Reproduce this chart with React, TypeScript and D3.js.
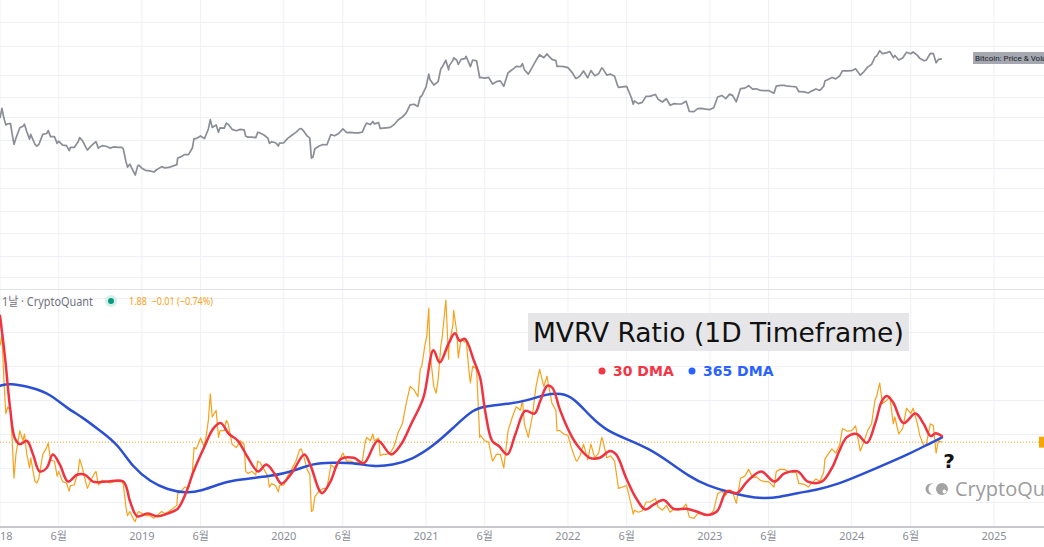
import React from "react";
import * as d3 from "d3";

// ---------- axis / grid data ----------
const xTickDates = [
  "2018-01-01", "2018-06-01", "2019-01-01", "2019-06-01", "2020-01-01", "2020-06-01",
  "2021-01-01", "2021-06-01", "2022-01-01", "2022-06-01", "2023-01-01", "2023-06-01",
  "2024-01-01", "2024-06-01", "2025-01-01",
];
const xTickLabels = [
  "2018", "6월", "2019", "6월", "2020", "6월", "2021", "6월", "2022", "6월", "2023", "6월",
  "2024", "6월", "2025",
];
const mvrvGridTicks = [1, 1.5, 2, 2.5, 3, 3.5, 4];
const priceGridTicks = [150000, 82000, 39500, 23000, 13800, 7700, 3800, 2300, 1300, 740, 415, 245];

const lastValue = 1.88;
const headerName = "1날 · CryptoQuant";
const headerValue = "1.88  −0.01 (−0.74%)";
const titleText = "MVRV Ratio (1D Timeframe)";
const legendLabels = ["30 DMA", "365 DMA"];
const priceLabel = "Bitcoin: Price & Volume";

// ---------- series ----------
type P = [string, number];

const priceData: P[] = [
  ["2018-01-01", 13400], ["2018-01-06", 17100], ["2018-01-11", 13400], ["2018-01-16", 11300], ["2018-01-21", 11600], ["2018-01-28", 11700],
  ["2018-02-01", 9100], ["2018-02-06", 6900], ["2018-02-11", 8100], ["2018-02-21", 10500], ["2018-03-01", 10900], ["2018-03-05", 11500],
  ["2018-03-11", 9500], ["2018-03-18", 7900], ["2018-03-21", 8900], ["2018-04-01", 6900], ["2018-04-06", 6600], ["2018-04-11", 6900],
  ["2018-04-21", 8900], ["2018-05-01", 9100], ["2018-05-05", 9800], ["2018-05-11", 8400], ["2018-05-21", 8400], ["2018-05-28", 7100],
  ["2018-06-01", 7500], ["2018-06-11", 6800], ["2018-06-21", 6700], ["2018-06-28", 5900], ["2018-07-01", 6400], ["2018-07-11", 6400],
  ["2018-07-21", 7400], ["2018-07-25", 8200], ["2018-08-01", 7600], ["2018-08-11", 6300], ["2018-08-14", 6000], ["2018-08-21", 6500],
  ["2018-09-01", 7200], ["2018-09-05", 7400], ["2018-09-11", 6300], ["2018-09-21", 6700], ["2018-10-01", 6600], ["2018-10-11", 6300],
  ["2018-10-21", 6500], ["2018-11-01", 6400], ["2018-11-11", 6400], ["2018-11-14", 6200], ["2018-11-21", 4500], ["2018-11-25", 3900],
  ["2018-12-01", 4200], ["2018-12-11", 3450], ["2018-12-15", 3200], ["2018-12-21", 4000], ["2018-12-24", 4100],
  ["2019-01-01", 3800], ["2019-01-10", 3600], ["2019-01-21", 3550], ["2019-02-01", 3450], ["2019-02-08", 3650], ["2019-02-21", 3950],
  ["2019-03-01", 3820], ["2019-03-11", 3870], ["2019-03-21", 4000], ["2019-04-01", 4150], ["2019-04-03", 4900], ["2019-04-11", 5050],
  ["2019-04-21", 5350], ["2019-05-01", 5350], ["2019-05-11", 6350], ["2019-05-15", 8000], ["2019-05-21", 8000], ["2019-06-01", 8550],
  ["2019-06-11", 8000], ["2019-06-21", 10200], ["2019-06-26", 12900], ["2019-07-01", 10600], ["2019-07-11", 11300], ["2019-07-17", 9400],
  ["2019-07-21", 10500], ["2019-08-01", 10400], ["2019-08-06", 11800], ["2019-08-11", 11500], ["2019-08-21", 10100], ["2019-09-01", 9750],
  ["2019-09-11", 10100], ["2019-09-21", 10000], ["2019-09-25", 8500], ["2019-10-01", 8300], ["2019-10-11", 8300], ["2019-10-21", 8200],
  ["2019-10-26", 9400], ["2019-11-01", 9200], ["2019-11-11", 8750], ["2019-11-21", 8100], ["2019-11-25", 7100], ["2019-12-01", 7400],
  ["2019-12-11", 7200], ["2019-12-18", 6640], ["2019-12-21", 7150],
  ["2020-01-01", 7200], ["2020-01-11", 8050], ["2020-01-21", 8650], ["2020-02-01", 9350], ["2020-02-11", 10250], ["2020-02-15", 10300],
  ["2020-02-21", 9700], ["2020-03-01", 8550], ["2020-03-08", 8100], ["2020-03-12", 4900], ["2020-03-16", 5000], ["2020-03-21", 6200],
  ["2020-04-01", 6650], ["2020-04-11", 6900], ["2020-04-21", 6850], ["2020-04-30", 8650], ["2020-05-01", 8850], ["2020-05-11", 8600],
  ["2020-05-21", 9100], ["2020-06-01", 10200], ["2020-06-11", 9300], ["2020-06-21", 9350], ["2020-07-01", 9230], ["2020-07-11", 9250],
  ["2020-07-21", 9400], ["2020-07-28", 11000], ["2020-08-01", 11800], ["2020-08-11", 11400], ["2020-08-17", 12300], ["2020-08-21", 11600],
  ["2020-09-01", 11950], ["2020-09-05", 10300], ["2020-09-11", 10400], ["2020-09-21", 10500], ["2020-10-01", 10600], ["2020-10-11", 11400],
  ["2020-10-21", 12800], ["2020-11-01", 13750], ["2020-11-11", 15300], ["2020-11-21", 18700], ["2020-12-01", 19000], ["2020-12-11", 18000],
  ["2020-12-17", 22800], ["2020-12-21", 23500],
  ["2021-01-01", 29400], ["2021-01-08", 40600], ["2021-01-11", 35500], ["2021-01-21", 30800], ["2021-02-01", 33500], ["2021-02-08", 46400],
  ["2021-02-11", 48000], ["2021-02-21", 57500], ["2021-02-28", 45200], ["2021-03-01", 49600], ["2021-03-11", 57300], ["2021-03-13", 61200],
  ["2021-03-21", 57500], ["2021-03-25", 51700], ["2021-04-01", 58800], ["2021-04-11", 60000], ["2021-04-14", 63500], ["2021-04-21", 53800],
  ["2021-04-25", 49000], ["2021-05-01", 57800], ["2021-05-11", 56700], ["2021-05-19", 37000], ["2021-05-21", 37300], ["2021-06-01", 36700],
  ["2021-06-11", 37300], ["2021-06-21", 31600], ["2021-07-01", 33500], ["2021-07-11", 34200], ["2021-07-20", 29800], ["2021-07-31", 42000],
  ["2021-08-11", 45500], ["2021-08-21", 49300], ["2021-09-01", 48800], ["2021-09-06", 52700], ["2021-09-11", 45200], ["2021-09-21", 40500],
  ["2021-10-01", 48100], ["2021-10-11", 57400], ["2021-10-20", 66000], ["2021-10-31", 61300], ["2021-11-08", 67500], ["2021-11-11", 64900],
  ["2021-11-21", 58700], ["2021-12-01", 57000], ["2021-12-04", 49200], ["2021-12-11", 49400], ["2021-12-21", 48900],
  ["2022-01-01", 47700], ["2022-01-11", 42700], ["2022-01-21", 36400], ["2022-01-24", 36700], ["2022-02-01", 38700], ["2022-02-10", 43900],
  ["2022-02-21", 37000], ["2022-03-01", 44400], ["2022-03-11", 38800], ["2022-03-21", 41000], ["2022-03-29", 47400], ["2022-04-01", 46300],
  ["2022-04-11", 39500], ["2022-04-21", 40500], ["2022-05-01", 38500], ["2022-05-09", 30100], ["2022-05-11", 29000], ["2022-05-21", 29400],
  ["2022-06-01", 29800], ["2022-06-13", 22500], ["2022-06-18", 19000], ["2022-06-21", 20700], ["2022-07-01", 19300], ["2022-07-11", 19900],
  ["2022-07-21", 23200], ["2022-08-01", 23300], ["2022-08-14", 24300], ["2022-08-21", 21500], ["2022-09-01", 20100], ["2022-09-11", 21800],
  ["2022-09-21", 18500], ["2022-10-01", 19300], ["2022-10-11", 19100], ["2022-10-21", 19200], ["2022-11-01", 20500], ["2022-11-09", 15900],
  ["2022-11-21", 15800], ["2022-12-01", 17000], ["2022-12-11", 17100], ["2022-12-21", 16800],
  ["2023-01-01", 16600], ["2023-01-11", 17400], ["2023-01-21", 22800], ["2023-02-01", 23700], ["2023-02-11", 21900], ["2023-02-21", 24500],
  ["2023-03-01", 23600], ["2023-03-10", 20200], ["2023-03-21", 28200], ["2023-04-01", 28500], ["2023-04-11", 30300], ["2023-04-21", 27800],
  ["2023-05-01", 28000], ["2023-05-11", 26900], ["2023-05-21", 26800], ["2023-06-01", 26800], ["2023-06-15", 25100], ["2023-06-21", 30000],
  ["2023-07-01", 30600], ["2023-07-11", 30600], ["2023-07-21", 29900], ["2023-08-01", 29700], ["2023-08-11", 29400], ["2023-08-18", 26000],
  ["2023-08-21", 26100], ["2023-09-01", 25900], ["2023-09-11", 25200], ["2023-09-21", 26600], ["2023-10-01", 27900], ["2023-10-11", 26900],
  ["2023-10-21", 29900], ["2023-10-24", 34000], ["2023-11-01", 35400], ["2023-11-11", 37200], ["2023-11-21", 36000], ["2023-12-01", 38700],
  ["2023-12-08", 44000], ["2023-12-21", 43900],
  ["2024-01-01", 44200], ["2024-01-11", 46300], ["2024-01-23", 39500], ["2024-02-01", 43000], ["2024-02-11", 48300], ["2024-02-21", 51900],
  ["2024-03-01", 62400], ["2024-03-05", 63800], ["2024-03-13", 73000], ["2024-03-20", 67800], ["2024-04-01", 69700], ["2024-04-08", 71600],
  ["2024-04-17", 61300], ["2024-04-21", 64900], ["2024-05-01", 57800], ["2024-05-11", 60800], ["2024-05-21", 70200], ["2024-06-01", 67700],
  ["2024-06-07", 70800], ["2024-06-18", 65000], ["2024-06-24", 60300], ["2024-07-05", 56700], ["2024-07-11", 57700], ["2024-07-21", 68200],
  ["2024-07-29", 68000], ["2024-08-05", 54000], ["2024-08-11", 58700], ["2024-08-20", 59500],
];

const mvrvRaw: P[] = [
  ["2018-01-01", 3.3], ["2018-01-06", 3.45], ["2018-01-11", 2.8], ["2018-01-16", 2.3], ["2018-01-21", 2.4], ["2018-01-28", 2.35],
  ["2018-02-01", 1.95], ["2018-02-06", 1.35], ["2018-02-11", 1.7], ["2018-02-21", 2.05], ["2018-03-01", 1.9], ["2018-03-05", 2.0],
  ["2018-03-11", 1.7], ["2018-03-18", 1.5], ["2018-03-21", 1.65], ["2018-04-01", 1.3], ["2018-04-06", 1.28], ["2018-04-11", 1.35],
  ["2018-04-21", 1.7], ["2018-05-01", 1.8], ["2018-05-05", 1.87], ["2018-05-11", 1.62], ["2018-05-21", 1.6], ["2018-05-28", 1.38],
  ["2018-06-01", 1.45], ["2018-06-11", 1.3], ["2018-06-21", 1.28], ["2018-06-28", 1.16], ["2018-07-01", 1.24], ["2018-07-11", 1.25],
  ["2018-07-21", 1.45], ["2018-07-25", 1.63], ["2018-08-01", 1.5], ["2018-08-11", 1.26], ["2018-08-14", 1.2], ["2018-08-21", 1.3],
  ["2018-09-01", 1.42], ["2018-09-05", 1.45], ["2018-09-11", 1.25], ["2018-09-21", 1.32], ["2018-10-01", 1.3], ["2018-10-11", 1.28],
  ["2018-10-21", 1.3], ["2018-11-01", 1.3], ["2018-11-11", 1.3], ["2018-11-14", 1.27], ["2018-11-21", 0.92], ["2018-11-25", 0.8],
  ["2018-12-01", 0.86], ["2018-12-11", 0.74], ["2018-12-15", 0.71], ["2018-12-21", 0.84], ["2018-12-24", 0.86],
  ["2019-01-01", 0.83], ["2019-01-10", 0.8], ["2019-01-21", 0.8], ["2019-02-01", 0.76], ["2019-02-08", 0.8], ["2019-02-21", 0.86],
  ["2019-03-01", 0.83], ["2019-03-11", 0.86], ["2019-03-21", 0.9], ["2019-04-01", 0.95], ["2019-04-03", 1.12], ["2019-04-11", 1.15],
  ["2019-04-21", 1.22], ["2019-05-01", 1.2], ["2019-05-11", 1.45], ["2019-05-15", 1.8], ["2019-05-21", 1.78], ["2019-06-01", 1.94],
  ["2019-06-11", 1.8], ["2019-06-21", 2.2], ["2019-06-26", 2.59], ["2019-07-01", 2.25], ["2019-07-11", 2.35], ["2019-07-17", 1.95],
  ["2019-07-21", 2.05], ["2019-08-01", 2.05], ["2019-08-06", 2.2], ["2019-08-11", 2.15], ["2019-08-21", 1.85], ["2019-09-01", 1.8],
  ["2019-09-11", 1.9], ["2019-09-21", 1.85], ["2019-09-25", 1.45], ["2019-10-01", 1.42], ["2019-10-11", 1.45], ["2019-10-21", 1.4],
  ["2019-10-26", 1.6], ["2019-11-01", 1.58], ["2019-11-11", 1.48], ["2019-11-21", 1.38], ["2019-11-25", 1.22], ["2019-12-01", 1.27],
  ["2019-12-11", 1.24], ["2019-12-18", 1.15], ["2019-12-21", 1.24],
  ["2020-01-01", 1.25], ["2020-01-11", 1.38], ["2020-01-21", 1.48], ["2020-02-01", 1.6], ["2020-02-11", 1.77], ["2020-02-15", 1.78],
  ["2020-02-21", 1.68], ["2020-03-01", 1.48], ["2020-03-08", 1.4], ["2020-03-12", 0.86], ["2020-03-16", 0.88], ["2020-03-21", 1.08],
  ["2020-04-01", 1.16], ["2020-04-11", 1.2], ["2020-04-21", 1.2], ["2020-04-30", 1.5], ["2020-05-01", 1.55], ["2020-05-11", 1.5],
  ["2020-05-21", 1.58], ["2020-06-01", 1.72], ["2020-06-11", 1.6], ["2020-06-21", 1.6], ["2020-07-01", 1.58], ["2020-07-11", 1.58],
  ["2020-07-21", 1.6], ["2020-07-28", 1.86], ["2020-08-01", 1.95], ["2020-08-11", 1.9], ["2020-08-17", 2.0], ["2020-08-21", 1.9],
  ["2020-09-01", 1.94], ["2020-09-05", 1.68], ["2020-09-11", 1.7], ["2020-09-21", 1.7], ["2020-10-01", 1.72], ["2020-10-11", 1.82],
  ["2020-10-21", 2.02], ["2020-11-01", 2.15], ["2020-11-11", 2.45], ["2020-11-21", 2.7], ["2020-12-01", 2.65], ["2020-12-11", 2.55],
  ["2020-12-17", 2.95], ["2020-12-21", 3.0], ["2020-12-29", 3.3],
  ["2021-01-03", 3.45], ["2021-01-08", 3.85], ["2021-01-11", 3.2], ["2021-01-21", 2.7], ["2021-01-27", 2.6], ["2021-02-01", 2.8],
  ["2021-02-08", 3.3], ["2021-02-11", 3.4], ["2021-02-21", 3.97], ["2021-02-28", 3.1], ["2021-03-01", 3.3], ["2021-03-11", 3.6],
  ["2021-03-13", 3.82], ["2021-03-21", 3.5], ["2021-03-25", 3.12], ["2021-04-01", 3.4], ["2021-04-11", 3.35], ["2021-04-14", 3.4],
  ["2021-04-21", 2.95], ["2021-04-25", 2.75], ["2021-05-01", 3.0], ["2021-05-11", 2.95], ["2021-05-19", 1.95], ["2021-05-21", 1.98],
  ["2021-06-01", 1.9], ["2021-06-11", 1.88], ["2021-06-21", 1.6], ["2021-07-01", 1.7], ["2021-07-11", 1.7], ["2021-07-20", 1.5],
  ["2021-07-31", 2.05], ["2021-08-11", 2.25], ["2021-08-21", 2.4], ["2021-09-01", 2.35], ["2021-09-06", 2.5], ["2021-09-11", 2.15],
  ["2021-09-21", 1.95], ["2021-10-01", 2.25], ["2021-10-11", 2.7], ["2021-10-20", 2.95], ["2021-10-31", 2.7], ["2021-11-08", 2.85],
  ["2021-11-11", 2.75], ["2021-11-21", 2.45], ["2021-12-01", 2.35], ["2021-12-04", 2.05], ["2021-12-11", 2.05], ["2021-12-21", 2.0],
  ["2022-01-01", 1.98], ["2022-01-11", 1.78], ["2022-01-21", 1.62], ["2022-01-24", 1.6], ["2022-02-01", 1.68], ["2022-02-10", 1.85],
  ["2022-02-21", 1.62], ["2022-03-01", 1.85], ["2022-03-11", 1.65], ["2022-03-21", 1.72], ["2022-03-29", 1.95], ["2022-04-01", 1.9],
  ["2022-04-11", 1.65], ["2022-04-21", 1.68], ["2022-05-01", 1.6], ["2022-05-09", 1.28], ["2022-05-11", 1.2], ["2022-05-21", 1.22],
  ["2022-06-01", 1.24], ["2022-06-13", 0.95], ["2022-06-18", 0.82], ["2022-06-21", 0.88], ["2022-07-01", 0.85], ["2022-07-11", 0.87],
  ["2022-07-21", 1.0], ["2022-08-01", 1.0], ["2022-08-14", 1.05], ["2022-08-21", 0.93], ["2022-09-01", 0.88], ["2022-09-11", 0.95],
  ["2022-09-21", 0.85], ["2022-10-01", 0.9], ["2022-10-11", 0.88], ["2022-10-21", 0.9], ["2022-11-01", 0.97], ["2022-11-09", 0.78],
  ["2022-11-21", 0.76], ["2022-12-01", 0.83], ["2022-12-11", 0.83], ["2022-12-21", 0.82],
  ["2023-01-01", 0.81], ["2023-01-11", 0.88], ["2023-01-21", 1.12], ["2023-02-01", 1.16], ["2023-02-11", 1.1], ["2023-02-21", 1.18],
  ["2023-03-01", 1.14], ["2023-03-10", 0.98], ["2023-03-21", 1.35], ["2023-04-01", 1.38], ["2023-04-11", 1.48], ["2023-04-21", 1.36],
  ["2023-05-01", 1.37], ["2023-05-11", 1.32], ["2023-05-21", 1.3], ["2023-06-01", 1.3], ["2023-06-15", 1.22], ["2023-06-21", 1.45],
  ["2023-07-01", 1.48], ["2023-07-11", 1.48], ["2023-07-21", 1.45], ["2023-08-01", 1.44], ["2023-08-11", 1.43], ["2023-08-18", 1.27],
  ["2023-08-21", 1.27], ["2023-09-01", 1.26], ["2023-09-11", 1.22], ["2023-09-21", 1.28], ["2023-10-01", 1.34], ["2023-10-11", 1.3],
  ["2023-10-21", 1.44], ["2023-10-24", 1.63], ["2023-11-01", 1.7], ["2023-11-11", 1.78], ["2023-11-21", 1.72], ["2023-12-01", 1.84],
  ["2023-12-08", 2.08], ["2023-12-21", 2.04],
  ["2024-01-01", 2.05], ["2024-01-11", 2.12], ["2024-01-23", 1.75], ["2024-02-01", 1.88], ["2024-02-11", 2.05], ["2024-02-21", 2.15],
  ["2024-03-01", 2.5], ["2024-03-05", 2.55], ["2024-03-13", 2.75], ["2024-03-20", 2.45], ["2024-04-01", 2.5], ["2024-04-08", 2.55],
  ["2024-04-17", 2.15], ["2024-04-21", 2.25], ["2024-05-01", 2.0], ["2024-05-11", 2.08], ["2024-05-21", 2.38], ["2024-06-01", 2.3],
  ["2024-06-07", 2.38], ["2024-06-18", 2.15], ["2024-06-24", 1.98], ["2024-07-05", 1.82], ["2024-07-11", 1.85], ["2024-07-21", 2.15],
  ["2024-07-29", 2.12], ["2024-08-05", 1.72], ["2024-08-11", 1.9], ["2024-08-20", 1.88],
];

const mvrv30: P[] = [
  ["2018-01-01", 3.74], ["2018-01-14", 3.12], ["2018-01-27", 2.38], ["2018-02-08", 1.94], ["2018-02-21", 1.85], ["2018-03-11", 1.9],
  ["2018-03-27", 1.7], ["2018-04-13", 1.45], ["2018-05-01", 1.5], ["2018-05-17", 1.7], ["2018-06-04", 1.55], ["2018-06-25", 1.3],
  ["2018-07-18", 1.4], ["2018-08-08", 1.4], ["2018-08-28", 1.3], ["2018-10-01", 1.3], ["2018-11-14", 1.3], ["2018-12-02", 1.0],
  ["2018-12-20", 0.79], ["2019-01-15", 0.83], ["2019-02-10", 0.79], ["2019-03-08", 0.83], ["2019-04-03", 0.9], ["2019-04-24", 1.13],
  ["2019-05-14", 1.45], ["2019-06-09", 1.79], ["2019-07-05", 2.09], ["2019-07-23", 2.16], ["2019-08-13", 2.0], ["2019-09-05", 1.9],
  ["2019-10-01", 1.65], ["2019-10-27", 1.45], ["2019-11-17", 1.55], ["2019-12-08", 1.42], ["2019-12-26", 1.27], ["2020-01-21", 1.42],
  ["2020-02-23", 1.7], ["2020-03-09", 1.55], ["2020-04-08", 1.13], ["2020-04-30", 1.3], ["2020-05-26", 1.63], ["2020-06-29", 1.65],
  ["2020-07-25", 1.57], ["2020-08-30", 1.9], ["2020-10-03", 1.7], ["2020-10-29", 1.85], ["2020-11-24", 2.15], ["2020-12-25", 2.53],
  ["2021-01-20", 3.23], ["2021-02-05", 3.05], ["2021-02-28", 3.33], ["2021-03-16", 3.48], ["2021-03-29", 3.37], ["2021-04-11", 3.4],
  ["2021-05-04", 3.08], ["2021-05-20", 2.83], ["2021-06-02", 2.34], ["2021-06-20", 1.9], ["2021-07-08", 1.82], ["2021-07-29", 1.7],
  ["2021-08-19", 2.0], ["2021-09-13", 2.34], ["2021-10-07", 2.3], ["2021-10-22", 2.49], ["2021-11-09", 2.71], ["2021-11-22", 2.68],
  ["2021-12-10", 2.38], ["2021-12-26", 2.15], ["2022-01-13", 1.94], ["2022-01-31", 1.79], ["2022-02-26", 1.65], ["2022-03-24", 1.65],
  ["2022-04-19", 1.75], ["2022-05-05", 1.7], ["2022-05-31", 1.35], ["2022-06-26", 1.05], ["2022-07-19", 0.89], ["2022-08-09", 0.96],
  ["2022-09-04", 1.03], ["2022-09-30", 0.9], ["2022-11-02", 0.9], ["2022-11-28", 0.86], ["2022-12-24", 0.81], ["2023-01-19", 0.86],
  ["2023-02-14", 1.16], ["2023-03-12", 1.13], ["2023-04-07", 1.3], ["2023-05-13", 1.45], ["2023-06-16", 1.3], ["2023-07-12", 1.42],
  ["2023-08-15", 1.45], ["2023-09-10", 1.3], ["2023-10-16", 1.3], ["2023-11-11", 1.5], ["2023-11-30", 1.75], ["2023-12-19", 1.95],
  ["2024-01-14", 2.0], ["2024-02-09", 1.87], ["2024-03-01", 2.15], ["2024-03-19", 2.49], ["2024-04-01", 2.56], ["2024-04-17", 2.46],
  ["2024-05-13", 2.16], ["2024-06-13", 2.3], ["2024-07-04", 2.15], ["2024-07-22", 1.97], ["2024-08-04", 2.01], ["2024-08-20", 1.97],
];

const mvrv365: P[] = [
  ["2018-01-01", 2.71], ["2018-01-27", 2.75], ["2018-03-27", 2.68], ["2018-05-09", 2.59], ["2018-06-22", 2.38], ["2018-08-03", 2.24],
  ["2018-09-17", 2.04], ["2018-10-31", 1.85], ["2018-12-10", 1.5], ["2019-01-23", 1.3], ["2019-03-08", 1.18], ["2019-04-25", 1.13],
  ["2019-06-02", 1.16], ["2019-07-16", 1.26], ["2019-08-27", 1.32], ["2019-10-10", 1.35], ["2019-11-23", 1.38], ["2020-01-03", 1.42],
  ["2020-02-16", 1.5], ["2020-03-13", 1.56], ["2020-05-04", 1.58], ["2020-06-25", 1.58], ["2020-08-16", 1.52], ["2020-10-07", 1.54],
  ["2020-11-28", 1.63], ["2021-01-19", 1.82], ["2021-03-12", 2.09], ["2021-05-03", 2.37], ["2021-06-06", 2.41], ["2021-07-28", 2.44],
  ["2021-09-18", 2.49], ["2021-11-08", 2.59], ["2021-12-14", 2.6], ["2022-01-17", 2.53], ["2022-03-02", 2.24], ["2022-04-13", 2.04],
  ["2022-06-04", 1.92], ["2022-07-26", 1.79], ["2022-09-16", 1.6], ["2022-11-07", 1.38], ["2022-12-29", 1.23], ["2023-02-12", 1.16],
  ["2023-04-05", 1.08], ["2023-05-19", 1.05], ["2023-06-30", 1.07], ["2023-08-13", 1.13], ["2023-10-04", 1.18], ["2023-11-25", 1.26],
  ["2024-01-16", 1.38], ["2024-04-03", 1.57], ["2024-05-25", 1.7], ["2024-07-16", 1.85], ["2024-08-20", 1.95],
];

// ---------- component ----------
const parse = d3.utcParse("%Y-%m-%d");
const toDate = (s: string) => parse(s) as Date;

export default function App() {
  const W = 1044;
  const H = 547;
  const x = d3.scaleUtc().domain([toDate("2018-01-01"), toDate("2025-01-01")]).range([0, 994]);
  const yP = d3.scaleLog().domain([3200, 69000]).range([175, 53]);
  const yM = d3.scaleLinear().domain([1, 4]).range([502, 298]);

  const priceLine = d3.line<P>().x((d) => x(toDate(d[0]))).y((d) => yP(d[1]));
  const rawLine = d3.line<P>().x((d) => x(toDate(d[0]))).y((d) => yM(d[1]));
  const smoothLine = d3
    .line<P>()
    .x((d) => x(toDate(d[0])))
    .y((d) => yM(d[1]))
    .curve(d3.curveCatmullRom.alpha(0.5));
  const longLine = d3
    .line<P>()
    .x((d) => x(toDate(d[0])))
    .y((d) => yM(d[1]))
    .curve(d3.curveBasis);

  const gridColor = "#eef0f5";
  const axisText = "#8a8d96";
  const orange = "#f7a21b";
  const red = "#ef3340";
  const blue = "#2a4fd3";
  const yLast = yM(lastValue);

  return (
    <div style={{ position: "absolute", left: 0, top: 0 }}>
      <svg width={W} height={H} style={{ display: "block", background: "#ffffff" }}>
        <rect x={0} y={0} width={W} height={H} fill="#ffffff" />
        {xTickDates.map((d) => (
          <line key={"vg" + d} x1={x(toDate(d))} x2={x(toDate(d))} y1={0} y2={527} stroke={gridColor} strokeWidth={1} />
        ))}
        {priceGridTicks.map((t) => (
          <line key={"pg" + t} x1={0} x2={W} y1={Math.round(yP(t)) + 0.5} y2={Math.round(yP(t)) + 0.5} stroke={gridColor} strokeWidth={1} />
        ))}
        {mvrvGridTicks.map((t) => (
          <line key={"mg" + t} x1={0} x2={W} y1={Math.round(yM(t)) + 0.5} y2={Math.round(yM(t)) + 0.5} stroke={gridColor} strokeWidth={1} />
        ))}
        <line x1={0} x2={W} y1={289.5} y2={289.5} stroke="#e0e3eb" strokeWidth={1} />

        {/* price */}
        <path d={priceLine(priceData) || ""} fill="none" stroke="#8b8e97" strokeWidth={1.7} strokeLinejoin="round" />
        <rect x={973} y={52} width={80} height={12} fill="#a5a8b0" />
        <text x={975} y={61} fontSize={8} fontFamily="Roboto, 'Noto Sans', sans-serif" fill="#1a1d26">
          {priceLabel}
        </text>

        {/* last value dotted line */}
        <line x1={0} x2={1040} y1={yLast} y2={yLast} stroke={orange} strokeWidth={1} strokeDasharray="1 2" />
        <rect x={1039} y={yLast - 5.5} width={8} height={11} fill="#f7a600" />

        {/* MVRV series */}
        <path d={rawLine(mvrvRaw) || ""} fill="none" stroke={orange} strokeWidth={1.2} strokeLinejoin="round" />
        <path d={longLine(mvrv365) || ""} fill="none" stroke={blue} strokeWidth={2.5} strokeLinecap="round" />
        <path d={smoothLine(mvrv30) || ""} fill="none" stroke={red} strokeWidth={2.5} strokeLinecap="round" />

        {/* header */}
        <text x={2} y={306} fontSize={12} textLength={91} lengthAdjust="spacingAndGlyphs" fontFamily="'Noto Sans', 'Noto Sans CJK KR', sans-serif" fill="#6f727c">
          {headerName}
        </text>
        <circle cx={111} cy={301} r={6} fill="#d5efe8" />
        <circle cx={111} cy={301} r={3} fill="#089981" />
        <text x={129} y={305} fontSize={11} textLength={84} lengthAdjust="spacingAndGlyphs" fontFamily="'Noto Sans', sans-serif" fill="#f7a21b" style={{ whiteSpace: "pre" }}>
          {headerValue}
        </text>

        {/* title */}
        <rect x={528} y={313} width={381} height={38} fill="#e6e6e8" />
        <text x={533} y={342} fontSize={26.5} fontFamily="'DejaVu Sans', sans-serif" fill="#111111">
          {titleText}
        </text>
        <circle cx={602} cy={371} r={3.5} fill="#f23645" />
        <text x={613} y={376} fontSize={14} fontWeight="bold" fontFamily="'DejaVu Sans', sans-serif" fill="#f23645">
          {legendLabels[0]}
        </text>
        <circle cx={692} cy={371} r={3.5} fill="#2962ff" />
        <text x={703} y={376} fontSize={14} fontWeight="bold" fontFamily="'DejaVu Sans', sans-serif" fill="#2962ff">
          {legendLabels[1]}
        </text>

        {/* question mark */}
        <text x={949} y={468} textAnchor="middle" fontSize={20} fontWeight="bold" fontFamily="'DejaVu Sans', sans-serif" fill="#111111">
          ?
        </text>

        {/* watermark */}
        <g fill="#a3a3a3">
          <path d="M934,483.5 A5.5,5.5 0 0,0 934,494.5 L931,494.5 A5.5,5.5 0 0,1 931,483.5 Z" />
          <circle cx={942} cy={489} r={6} />
        </g>
        <circle cx={944.5} cy={491.5} r={2} fill="#ffffff" />
        <text x={955} y={496} fontSize={20} fontFamily="'Open Sans', sans-serif" fill="#9c9c9c">
          CryptoQuant
        </text>

        {/* x axis */}
        <line x1={0} x2={W} y1={527} y2={527} stroke="#8f929b" strokeWidth={1.2} />
        {xTickDates.map((d, i) => (
          <text
            key={"xl" + d}
            x={x(toDate(d))}
            y={540}
            textAnchor="middle"
            fontSize={11}
            fontFamily="'Noto Sans', 'Noto Sans CJK KR', sans-serif"
            fill={axisText}
          >
            {xTickLabels[i]}
          </text>
        ))}
      </svg>
    </div>
  );
}
